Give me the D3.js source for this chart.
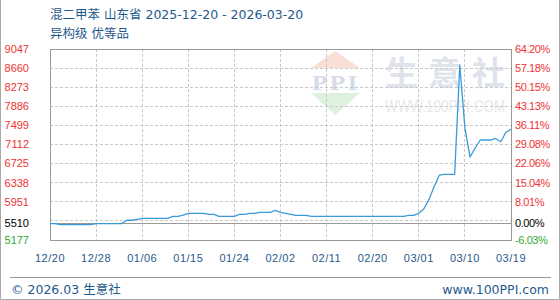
<!DOCTYPE html>
<html><head><meta charset="utf-8">
<script src="https://cdn.jsdelivr.net/npm/d3@7"></script>
<style>body{margin:0;background:#fff}svg{display:block}</style>
</head><body>
<svg id="c" width="560" height="300"></svg>
<script>
const titleLine1 = "混二甲苯 山东省 2025-12-20 - 2026-03-20";
const titleLine2 = "异构级 优等品";
const footerLeft = "© 2026.03 生意社";
const footerRight = "www.100PPI.com";
const xLabels = ["12/20","12/28","01/06","01/15","01/24","02/02","02/11","02/20","03/01","03/10","03/19"];
const yTicks = [9047, 8660, 8273, 7886, 7499, 7112, 6725, 6338, 5951, 5510, 5177];
const pctLabels = ["64.20%","57.18%","50.15%","43.13%","36.11%","29.08%","22.06%","15.04%","8.01%","0.00%","-6.03%"];
const gridValues = [9047, 8660, 8273, 7886, 7499, 7112, 6725, 6338, 5951, 5564, 5177];
const baseValue = 5510;
// daily prices, 2025-12-20 .. 2026-03-20
const prices = [
  5510,5510,5490,5490,5490,5490,5490,5490,5490,5510,
  5510,5510,5510,5510,5510,5577,5577,5597,5617,5617,
  5617,5617,5617,5617,5657,5657,5683,5718,5718,5718,
  5718,5697,5697,5657,5657,5657,5657,5697,5697,5718,
  5718,5738,5738,5738,5775,5738,5718,5697,5677,5677,
  5677,5657,5657,5657,5657,5657,5657,5657,5657,5657,
  5657,5657,5657,5657,5657,5657,5657,5657,5657,5657,
  5677,5677,5718,5810,6000,6260,6490,6508,6508,6508,
  8723,7450,6859,7041,7203,7203,7203,7234,7169,7359,
  7420
];

const svg = d3.select("#c");
const m = {left:50, top:49, right:511, bottom:240};
const x = d3.scaleLinear().domain([0, prices.length-1]).range([m.left, m.right]);
const y = d3.scaleLinear().domain([5177, 9047]).range([m.bottom, m.top]);
const xl = d3.scalePoint().domain(xLabels).range([m.left, m.right]);
const blue = "#1f5a8c";
const latin = "'Liberation Sans', Arial, sans-serif";
const cjk = "'DejaVu Sans', 'Noto Sans CJK SC', sans-serif";

// outer frame
svg.append("path").attr("d","M0.5,0V299.5H559.5V0").attr("fill","none").attr("stroke","#aaa");

// titles
svg.append("text").attr("x",50).attr("y",19).attr("fill",blue).attr("font-family",cjk).attr("font-size",12.5).text(titleLine1);
svg.append("text").attr("x",50).attr("y",38).attr("fill",blue).attr("font-family",cjk).attr("font-size",12.5).text(titleLine2);

// watermark
const wm = svg.append("g");
wm.append("polygon").attr("points","311,68 335,51 360,68").attr("fill","#fadfd8");
wm.append("polygon").attr("points","311,93 360,93 335,115").attr("fill","#def0de");
wm.append("text").attr("transform","translate(312,90) scale(1.15,1)").attr("font-family","'Liberation Serif', serif").attr("font-weight","bold")
  .attr("font-size",22).attr("fill","#d5dbe8").attr("letter-spacing",2).text("PPI");
wm.append("text").attr("x",385).attr("y",85).attr("font-family","'Noto Sans CJK SC', sans-serif").attr("font-weight","bold")
  .attr("font-size",33).attr("fill","#dfe3ec").attr("textLength",120).attr("lengthAdjust","spacing").text("生意社");
wm.append("text").attr("transform","translate(385,112) scale(0.84,1)").attr("font-family",latin)
  .attr("font-size",16).attr("fill","#e8e8e8").text("WWW.100PPI.COM");

// grid
const g = svg.append("g").attr("shape-rendering","crispEdges");
g.selectAll("line.h").data(gridValues).join("line")
  .attr("x1",m.left).attr("x2",m.right).attr("y1",d=>y(d)).attr("y2",d=>y(d))
  .attr("stroke","#c8c8c8").attr("stroke-dasharray","3,2");
g.selectAll("line.v").data(xLabels).join("line").attr("class","v")
  .attr("x1",d=>xl(d)).attr("x2",d=>xl(d)).attr("y1",m.top).attr("y2",m.bottom)
  .attr("stroke","#c8c8c8").attr("stroke-dasharray","3,2");
g.append("line").attr("x1",m.left).attr("x2",m.right).attr("y1",y(baseValue)).attr("y2",y(baseValue)).attr("stroke","#999");
g.append("rect").attr("x",m.left).attr("y",m.top).attr("width",m.right-m.left).attr("height",m.bottom-m.top)
  .attr("fill","none").attr("stroke","#999");

// y labels
const col = v => v > baseValue ? "#ee3333" : (v === baseValue ? "#000" : "#33aa33");
svg.append("g").selectAll("text").data(yTicks).join("text")
  .attr("x",29).attr("y",d=>y(d)).attr("dy","0.35em").attr("text-anchor","end")
  .attr("font-family",latin).attr("font-size",11).attr("fill",col).text(d=>d);
svg.append("g").selectAll("text").data(yTicks).join("text")
  .attr("x",515).attr("y",d=>y(d)).attr("dy","0.35em").attr("text-anchor","start")
  .attr("font-family",latin).attr("font-size",11).attr("letter-spacing",-0.4).attr("fill",col).text((d,i)=>pctLabels[i]);

// x labels
svg.append("g").selectAll("text").data(xLabels).join("text")
  .attr("x",d=>xl(d)).attr("y",262).attr("text-anchor","middle")
  .attr("font-family",latin).attr("font-size",11).attr("letter-spacing",0.5).attr("fill",blue).text(d=>d);

// line
svg.append("path").datum(prices)
  .attr("d", d3.line().x((d,i)=>x(i)).y(d=>y(d)))
  .attr("fill","none").attr("stroke","#3a9ad9").attr("stroke-width",1.3).attr("stroke-linejoin","round");

// footer
svg.append("line").attr("x1",10).attr("x2",551).attr("y1",277.5).attr("y2",277.5).attr("stroke","#999");
svg.append("text").attr("x",11).attr("y",294).attr("fill",blue).attr("font-family",cjk).attr("font-size",12.5).text(footerLeft);
svg.append("text").attr("x",549).attr("y",294).attr("text-anchor","end").attr("fill",blue).attr("font-family",cjk).attr("font-size",12.5).text(footerRight);
</script>
</body></html>
